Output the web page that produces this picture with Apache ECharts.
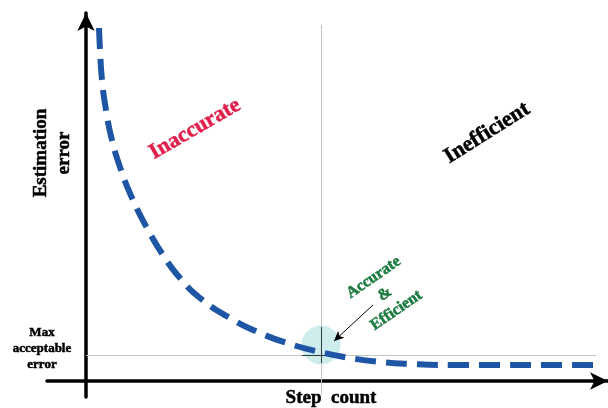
<!DOCTYPE html>
<html><head><meta charset="utf-8">
<script src="https://cdn.jsdelivr.net/npm/echarts@6/dist/echarts.min.js"></script>
<style>html,body{margin:0;padding:0;background:#fff}#c{width:608px;height:408px}</style>
</head><body><div id="c"></div>
<script>
// Curve: step count vs estimation error (conceptual units)
const stepCount = [13, 14, 16, 20, 26, 35, 47, 61, 77, 94, 114, 144, 174, 204, 234, 264, 294, 324, 364, 510];
const estError  = [353, 331, 301, 271, 241, 211, 181, 153, 126, 103, 83, 63, 48, 37, 29, 23, 19, 17, 16, 16];
const maxAcceptableError = 26;
const optimalStep = 235;
const optimalError = 36;
const xRange = [-39, 522];
const yRange = [-16, 368];

const curve = stepCount.map((x, i) => [x, estError[i]]);
function txt(x, y, text, size, color, rot, lh) {
  return {type: 'text', x: x, y: y, rotation: rot || 0, z: 10,
    style: {text: text, font: 'bold ' + size + 'px "Liberation Serif", serif', lineHeight: lh || Math.round(size * 1.15),
      fill: color, stroke: color, lineWidth: 0.5, align: 'center', verticalAlign: 'middle'}};
}

const chart = echarts.init(document.getElementById('c'));
chart.setOption({
  animation: false,
  grid: {left: 47, right: 0, top: 13, bottom: 11},
  xAxis: {
    type: 'value', min: xRange[0], max: xRange[1],
    axisLine: {onZero: true, symbol: ['none', 'arrow'], symbolSize: [13, 18], lineStyle: {color: '#000', width: 3.5}},
    axisTick: {show: false}, axisLabel: {show: false}, splitLine: {show: false}
  },
  yAxis: {
    type: 'value', min: yRange[0], max: yRange[1],
    axisLine: {onZero: true, symbol: ['none', 'arrow'], symbolSize: [13, 18], lineStyle: {color: '#000', width: 3.5}},
    axisTick: {show: false}, axisLabel: {show: false}, splitLine: {show: false}
  },
  series: [
    {
      type: 'line', data: [], silent: true, z: 1,
      markLine: {
        symbol: 'none', silent: true, animation: false,
        label: {show: false},
        lineStyle: {color: '#c4c4c4', width: 1, type: 'solid'},
        data: [
          [{coord: [0, maxAcceptableError]}, {coord: [510, maxAcceptableError]}],
          [{coord: [optimalStep, -14]}, {coord: [optimalStep, 356]}]
        ]
      }
    },
    {
      type: 'scatter', silent: true, z: 2,
      data: [[optimalStep, optimalError]],
      symbolSize: 39,
      itemStyle: {color: 'rgba(170,222,222,0.7)'},
      markLine: {
        symbol: 'none', silent: true, label: {show: false},
        lineStyle: {color: '#2a3a3a', width: 1, type: 'solid'},
        data: [
          [{coord: [optimalStep - 19, maxAcceptableError]}, {coord: [optimalStep + 19, maxAcceptableError]}],
          [{coord: [optimalStep, 18]}, {coord: [optimalStep, 54]}]
        ]
      }
    },
    {
      type: 'line', data: curve, smooth: true, showSymbol: false, silent: true, z: 6,
      lineStyle: {color: '#1f55a5', width: 6, type: [21, 10]}
    },
    {
      type: 'line', data: [], silent: true, z: 7,
      markLine: {
        symbol: ['none', 'arrow'], symbolSize: [7, 10], silent: true, label: {show: false},
        lineStyle: {color: '#000', width: 1, type: 'solid'},
        data: [[{coord: [287, 76]}, {coord: [248, 40]}]]
      }
    }
  ],
  graphic: [
    txt(331, 398, 'Step  count', 19, '#000'),
    txt(53, 153, 'Estimation\nerror', 19, '#000', Math.PI / 2, 23),
    txt(42, 349, 'Max\nacceptable\nerror', 13, '#000', 0, 16),
    txt(195, 129, 'Inaccurate', 22, '#e21f4b', Math.PI / 6),
    txt(487, 133, 'Inefficient', 22, '#000', Math.PI / 5.6),
    txt(385, 294, 'Accurate\n&\nEfficient', 16, '#1a7a40', Math.PI / 5.2, 20)
  ]
});
</script></body></html>
